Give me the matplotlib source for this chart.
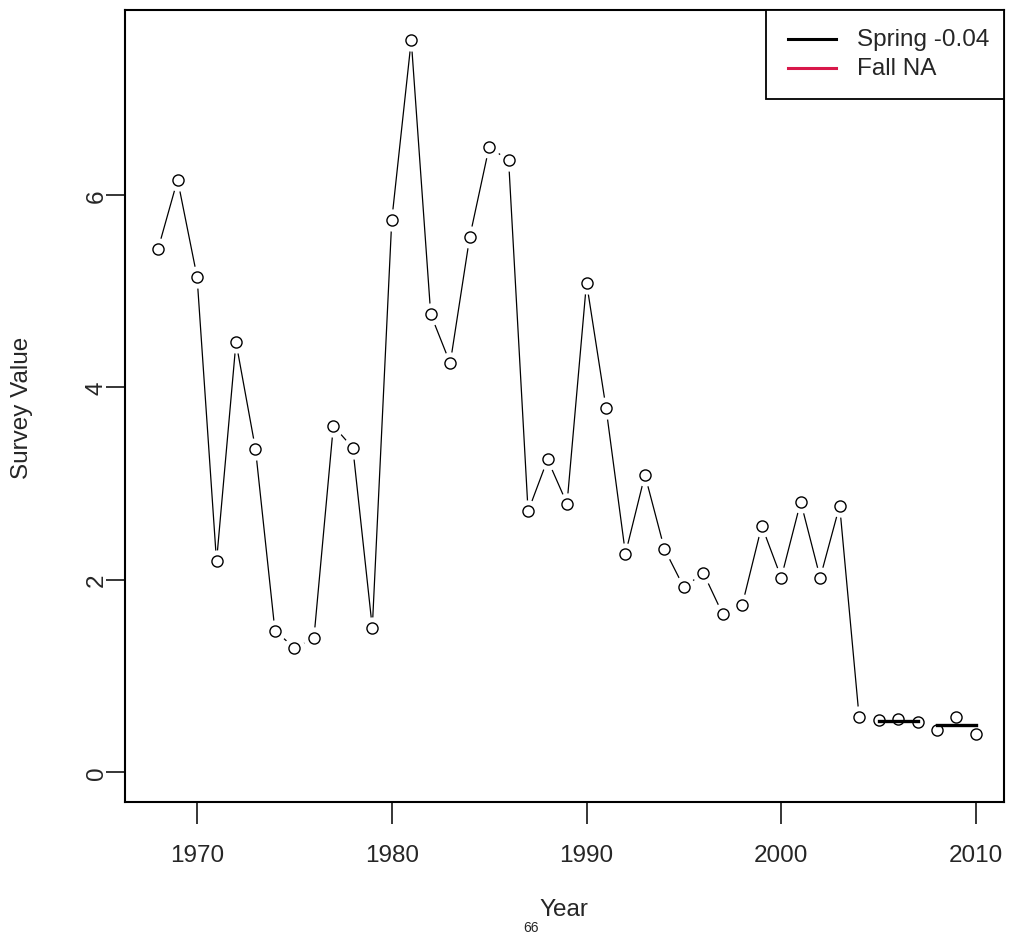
import matplotlib
matplotlib.use("Agg")
import matplotlib.pyplot as plt
from matplotlib.patches import Rectangle
from matplotlib.lines import Line2D

plt.rcParams['font.family'] = ['Liberation Sans', 'DejaVu Sans']

# Spring survey, connected years
years_a = [1968, 1969, 1970, 1971, 1972, 1973, 1974, 1975, 1976, 1977,
           1978, 1979, 1980, 1981, 1982, 1983, 1984, 1985, 1986, 1987,
           1988, 1989, 1990, 1991, 1992, 1993, 1994, 1995, 1996, 1997,
           1998, 1999, 2000, 2001, 2002, 2003, 2004]
values_a = [5.44, 6.16, 5.15, 2.19, 4.47, 3.36, 1.47, 1.29, 1.39, 3.60,
            3.37, 1.50, 5.74, 7.61, 4.76, 4.25, 5.56, 6.50, 6.36, 2.71,
            3.25, 2.79, 5.09, 3.79, 2.27, 3.09, 2.32, 1.92, 2.07, 1.64,
            1.74, 2.56, 2.02, 2.81, 2.02, 2.77, 0.57]
# recent years, points only
years_b = [2005, 2006, 2007, 2008, 2009, 2010]
values_b = [0.54, 0.55, 0.52, 0.44, 0.57, 0.39]
# block mean segments
seg_start = [2005, 2008]
seg_end = [2007, 2010]
seg_value = [0.53, 0.49]

legend_labels = ["Spring -0.04", "Fall NA"]
legend_colors = ["black", "#d8184a"]

x_ticks = [1970, 1980, 1990, 2000, 2010]
y_ticks = [0, 2, 4, 6]

W, H = 1011, 945
fig = plt.figure(figsize=(W / 100, H / 100), dpi=100)
L, R, T, B = 125, 1004, 11, 803
ax = fig.add_axes([L / W, (H - B) / H, (R - L) / W, (B - T) / H])

FS = 17.5
TC = '#262626'

# line with gaps around points (R type="b" look)
ax.plot(years_a, values_a, color='black', lw=0.9, zorder=2)
ax.plot(years_a, values_a, ls='none', marker='o', ms=16, mfc='white',
        mec='none', zorder=3)
ax.plot(years_a, values_a, ls='none', marker='o', ms=8, mfc='white',
        mec='black', mew=1.0, zorder=4)

ax.plot(years_b, values_b, ls='none', marker='o', ms=8, mfc='none',
        mec='black', mew=1.0, zorder=4)
for s, e, v in zip(seg_start, seg_end, seg_value):
    ax.plot([s, e], [v, v], color='black', lw=2.4, zorder=3)

ax.set_xlim(1966.30, 2011.44)
ax.set_ylim(-0.312, 7.924)
ax.set_xticks(x_ticks)
ax.set_xticklabels([str(t) for t in x_ticks], fontsize=FS, color=TC)
ax.set_yticks(y_ticks)
ax.set_yticklabels([str(t) for t in y_ticks], fontsize=FS, color=TC,
                   rotation=90, va='center')
ax.tick_params(axis='x', length=16, width=1.1, pad=14)
ax.tick_params(axis='y', length=14, width=1.1, pad=-1.5)
for sp in ax.spines.values():
    sp.set_linewidth(1.5)

fig.text(22 / W, 1 - 408 / H, "Survey Value", rotation=90, ha='center',
         va='center', fontsize=FS, color=TC)
fig.text(564 / W, 1 - 910 / H, "Year", ha='center', va='center',
         fontsize=FS, color=TC)
fig.text(539 / W, 1 - 928 / H, "66", ha='right', va='center',
         fontsize=10, color=TC)

# legend box (top right, R-style)
def ax_x(px):
    return (px - L) / (R - L)

def ax_y(py):
    return (B - py) / (B - T)

ax.add_patch(Rectangle((ax_x(766), ax_y(100)), ax_x(R) - ax_x(766),
                       ax_y(T) - ax_y(100), transform=ax.transAxes,
                       fill=True, facecolor='white', edgecolor='black',
                       lw=1.3, zorder=6, clip_on=False))
for i, (lab, col) in enumerate(zip(legend_labels, legend_colors)):
    yy = 40 + i * 29
    ax.add_line(Line2D([ax_x(788), ax_x(836)], [ax_y(yy), ax_y(yy)],
                       transform=ax.transAxes, color=col, lw=2.2, zorder=7))
    ax.text(ax_x(857), ax_y(yy), lab, transform=ax.transAxes, ha='left',
            va='center', fontsize=FS, color=TC, zorder=7)

fig.savefig("out.png", dpi=100, facecolor='white')
